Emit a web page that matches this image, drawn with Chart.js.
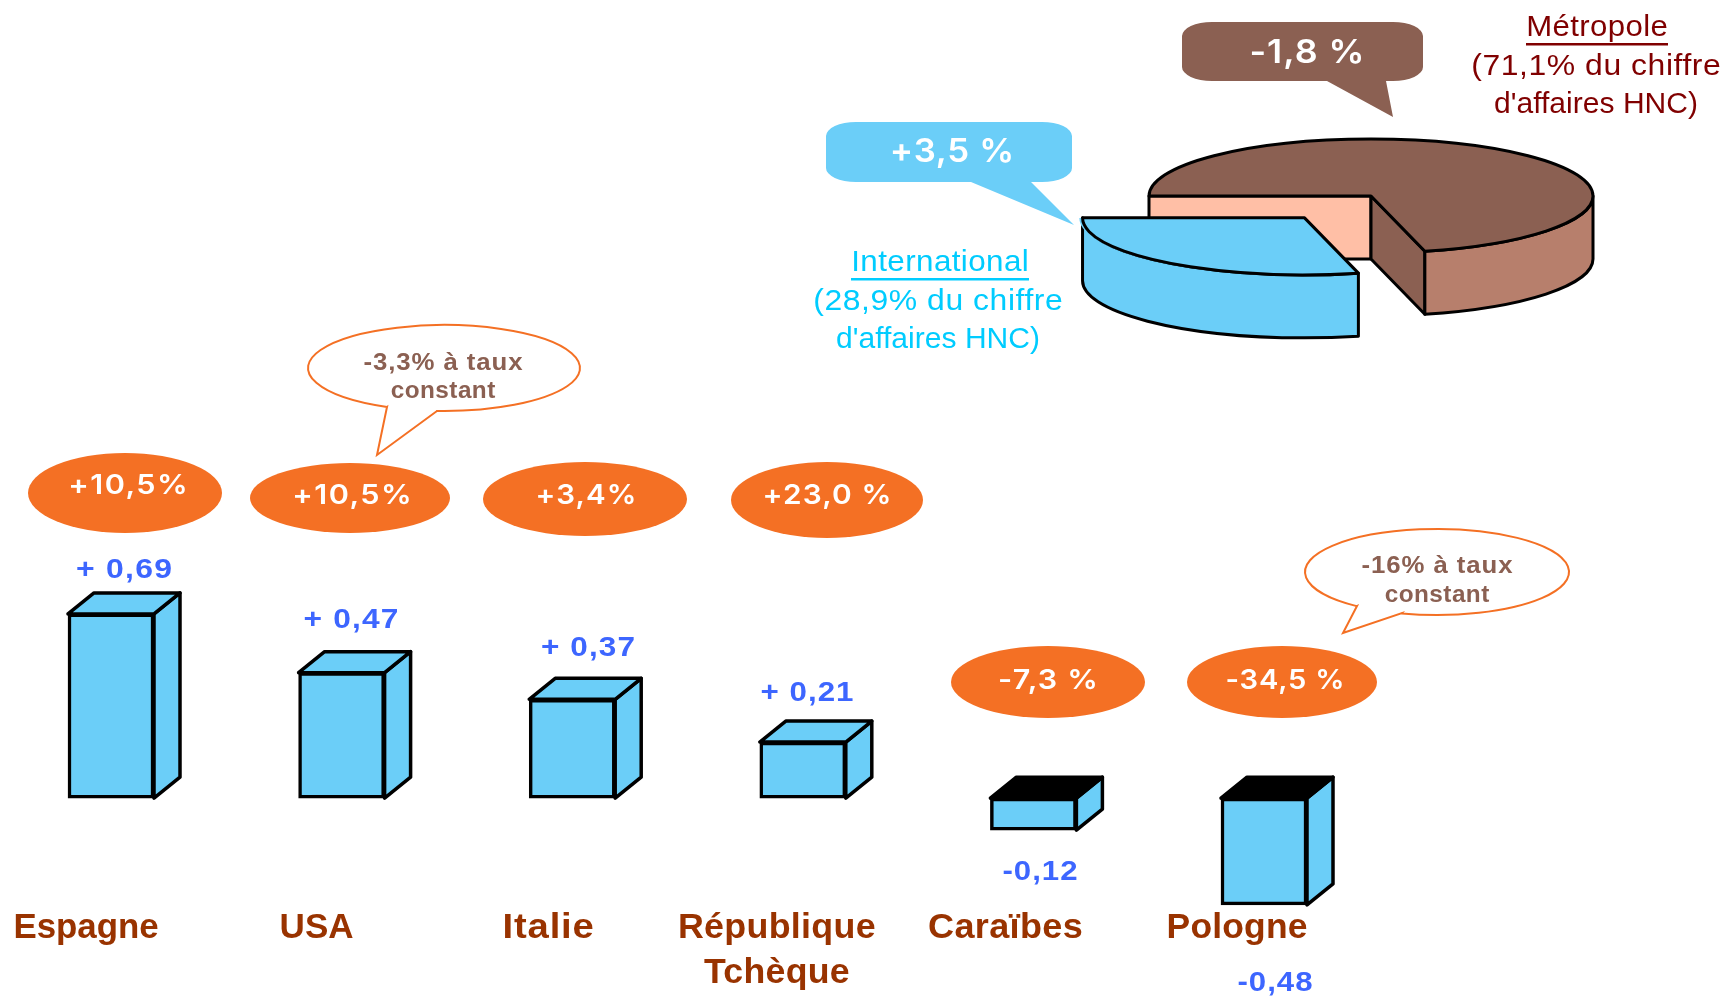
<!DOCTYPE html>
<html lang="fr">
<head>
<meta charset="utf-8">
<title>Chiffre d'affaires HNC</title>
<script src="https://cdn.jsdelivr.net/npm/chart.js@4"></script>
<style>
html,body{margin:0;padding:0;background:#fff;overflow:hidden}
#wrap{position:relative;width:1726px;height:996px;overflow:hidden}
#bars{position:absolute;left:0;top:0}
#pie{position:absolute;left:1018px;top:-200px}
</style>
</head>
<body>
<div id="wrap">
<canvas id="bars" width="1726" height="996"></canvas>
<canvas id="pie" width="706" height="792"></canvas>
</div>
<script>
// ---------- data ----------
const categories = ["Espagne", "USA", "Italie", ["République", "Tchèque"], "Caraïbes", "Pologne"];
// Bar heights as drawn, on the picture's own scale (the Pologne box is drawn shorter than its printed -0,48)
const barValues = [0.69, 0.47, 0.37, 0.21, -0.12, -0.40];
const valueLabels = ["+ 0,69", "+ 0,47", "+ 0,37", "+ 0,21", "-0,12", "-0,48"];
const growthLabels = ["+10,5%", "+10,5%", "+3,4%", "+23,0 %", "-7,3 %", "-34,5 %"];
const pieLabels = ["Métropole", "International"];
const pieValues = [71.1, 28.9];
const pieGrowth = ["-1,8 %", "+3,5 %"];
const pieNotes = [["(71,1% du chiffre", "d'affaires HNC)"], ["(28,9% du chiffre", "d'affaires HNC)"]];
const constantNotes = [["-3,3% à taux", "constant"], ["-16% à taux", "constant"]];

// ---------- layout & style ----------
const BLUE = "#6BCEF8", ORANGE = "#F47024", BROWN = "#8B6052", BROWN_SIDE = "#B77F6C", PINK = "#FFBFA6";
const VALUE_BLUE = "#3D66FF", CAT = "#993300", DARKRED = "#800000", CYAN = "#00CCFF";
const SANS = '"Liberation Sans"', WIDE = 'Inter';
const DEPTH_X = 26, DEPTH_Y = 21;
const catOffset = [-25, -25, -24, -26, -28, -27];
const catWidths = [[145],[74],[92],[198,146],[155],[141]];
const ellipses = [[125,493,97,40],[350,498,100,35],[585,499,102,37],[827,500,96,38],[1048,682,97,36],[1282,682,95,36]];
const growthPos = [[128,486],[352,496],[586,496],[827,496],[1048,681],[1285,681]];
const growthWidths = [121,121,102,130,101,120];
const valuePos = [[124,570],[351,620],[588,648],[807,693],[1040,872],[1275,983]];
const valueWidths = [97,96,95,94,76,76];

// width: the text is stretched and spaced out to that printed width
function txt(ctx, s, x, y, font, color, width, underline){
  ctx.save();
  ctx.font = font; ctx.fillStyle = color;
  ctx.textAlign = "center"; ctx.textBaseline = "middle";
  ctx.letterSpacing = "0px";
  const w0 = ctx.measureText(s).width;
  const stretch = width ? 1 + (width / w0 - 1) * 0.6 : 1;
  const sp = width ? (width / stretch - w0) / s.length : 0;
  ctx.letterSpacing = sp + "px";
  ctx.save();
  ctx.translate(x, y); ctx.scale(stretch, 1);
  ctx.fillText(s, sp/2, 0);
  ctx.restore();
  if (underline){
    const w = width || w0;
    ctx.fillRect(x - w/2, y + underline, w, 2.5);
  }
  ctx.restore();
}
function speech(ctx, x0, y0, x1, y1, tail, color){
  const rx = 30, ry = 14;
  ctx.beginPath();
  ctx.moveTo(x0+rx, y0);
  ctx.lineTo(x1-rx, y0);
  ctx.ellipse(x1-rx, y0+ry, rx, ry, 0, -Math.PI/2, 0);
  ctx.lineTo(x1, y1-ry);
  ctx.ellipse(x1-rx, y1-ry, rx, ry, 0, 0, Math.PI/2);
  ctx.lineTo(tail[3], y1);
  ctx.lineTo(tail[0], tail[1]);
  ctx.lineTo(tail[2], y1);
  ctx.lineTo(x0+rx, y1);
  ctx.ellipse(x0+rx, y1-ry, rx, ry, 0, Math.PI/2, Math.PI);
  ctx.lineTo(x0, y0+ry);
  ctx.ellipse(x0+rx, y0+ry, rx, ry, 0, Math.PI, Math.PI*1.5);
  ctx.closePath();
  ctx.fillStyle = color; ctx.fill();
}
function bubble(ctx, cx, cy, rx, ry, t){
  const a1 = Math.atan2((t[1]-cy)/ry, (t[0]-cx)/rx);
  const a2 = Math.atan2((t[5]-cy)/ry, (t[4]-cx)/rx);
  ctx.beginPath();
  ctx.ellipse(cx, cy, rx, ry, 0, a1, a2, false);
  ctx.lineTo(t[4], t[5]);
  ctx.lineTo(t[2], t[3]);
  ctx.lineTo(t[0], t[1]);
  ctx.closePath();
  ctx.fillStyle = "#fff"; ctx.fill();
  ctx.strokeStyle = ORANGE; ctx.lineWidth = 2; ctx.stroke();
}

const boxFaces = {
  id: "boxFaces",
  beforeDatasetsDraw(chart){
    const ctx = chart.ctx;
    ctx.save();
    ctx.lineWidth = 3.5; ctx.strokeStyle = "#000"; ctx.lineJoin = "round";
    chart.getDatasetMeta(0).data.forEach((b, i) => {
      const l = b.x - b.width/2, r = b.x + b.width/2;
      const top = Math.min(b.y, b.base), bot = Math.max(b.y, b.base);
      ctx.beginPath();
      ctx.moveTo(r, top); ctx.lineTo(r+DEPTH_X, top-DEPTH_Y); ctx.lineTo(r+DEPTH_X, bot-DEPTH_Y); ctx.lineTo(r, bot); ctx.closePath();
      ctx.fillStyle = BLUE; ctx.fill(); ctx.stroke();
      ctx.beginPath();
      ctx.moveTo(l, top); ctx.lineTo(l+DEPTH_X, top-DEPTH_Y); ctx.lineTo(r+DEPTH_X, top-DEPTH_Y); ctx.lineTo(r, top); ctx.closePath();
      ctx.fillStyle = barValues[i] < 0 ? "#000" : BLUE; ctx.fill(); ctx.stroke();
    });
    ctx.restore();
  },
  afterDraw(chart){
    const ctx = chart.ctx, xs = chart.scales.x;
    ellipses.forEach((e, i) => {
      ctx.beginPath(); ctx.ellipse(e[0], e[1], e[2], e[3], 0, 0, Math.PI*2);
      ctx.fillStyle = ORANGE; ctx.fill();
      txt(ctx, growthLabels[i], growthPos[i][0], growthPos[i][1], `600 27px ${WIDE}`, "#fff", growthWidths[i]);
    });
    valueLabels.forEach((s, i) => txt(ctx, s, valuePos[i][0], valuePos[i][1], `700 28px ${SANS}`, VALUE_BLUE, valueWidths[i]));
    categories.forEach((c, i) => {
      const x = xs.getPixelForValue(i) + catOffset[i];
      [].concat(c).forEach((line, k) => txt(ctx, line, x, 928 + k*45, `700 35px ${SANS}`, CAT, catWidths[i][k]));
    });
    bubble(ctx, 444, 368, 136, 43, [387,407, 377,455, 437,411]);
    constantNotes[0].forEach((s, k) => txt(ctx, s, 443, 364 + k*28, `700 23px ${SANS}`, BROWN, [160,105][k]));
    bubble(ctx, 1437, 572, 132, 43, [1357,606, 1343,633, 1402,613]);
    constantNotes[1].forEach((s, k) => txt(ctx, s, 1437, 567 + k*29, `700 23px ${SANS}`, BROWN, [152,105][k]));
    speech(ctx, 1182, 22, 1423, 81, [1393,117,1327,1386], BROWN);
    txt(ctx, pieGrowth[0], 1307, 53, `600 33px ${WIDE}`, "#fff", 116);
    speech(ctx, 826, 122, 1072, 182, [1074,225,971,1031], BLUE);
    txt(ctx, pieGrowth[1], 952, 152, `600 33px ${WIDE}`, "#fff", 125);
    txt(ctx, pieLabels[0], 1597, 28, `400 30px ${SANS}`, DARKRED, 142, 15);
    pieNotes[0].forEach((s, k) => txt(ctx, s, 1596, 67 + k*38, `400 30px ${SANS}`, DARKRED, [250,204][k]));
    txt(ctx, pieLabels[1], 940, 263, `400 30px ${SANS}`, CYAN, 178, 15);
    pieNotes[1].forEach((s, k) => txt(ctx, s, 938, 302 + k*38, `400 30px ${SANS}`, CYAN, [250,204][k]));
  }
};

new Chart(document.getElementById("bars"), {
  type: "bar",
  data: {
    labels: categories,
    datasets: [{
      data: barValues,
      backgroundColor: BLUE, borderColor: "#000", borderWidth: 3.5, borderSkipped: false,
      barThickness: 86, clip: false
    }]
  },
  options: {
    responsive: false, animation: false, devicePixelRatio: 1,
    layout: { padding: { left: 111, right: 462, top: 24, bottom: 11 } },
    scales: {
      x: { display: false, offset: false },
      y: { display: false, min: -0.7, max: 2.9 }
    },
    plugins: { legend: { display: false }, tooltip: { enabled: false } }
  },
  plugins: [boxFaces]
});

// ---------- squashed 3-D pie ----------
const SQUASH = 0.2568, THICK = 63;
// Chart.js's ArcElement translates by a quarter of its offset option
const shift = el => (el.options.offset || 0) / 4;
const pie3d = {
  id: "pie3d",
  beforeDatasetDraw(chart){
    const ctx = chart.ctx, arcs = chart.getDatasetMeta(0).data;
    const a = arcs[0], b = arcs[1], R = a.outerRadius, cx = a.x, cy = a.y;
    ctx.save();
    ctx.lineWidth = 3; ctx.strokeStyle = "#000"; ctx.lineJoin = "round";
    const poly = (pts, fill) => { ctx.beginPath(); pts.forEach((p,i)=> i?ctx.lineTo(p[0],p[1]):ctx.moveTo(p[0],p[1])); ctx.closePath(); ctx.fillStyle = fill; ctx.fill(); ctx.stroke(); };
    const sideArc = (x, y, s, e, fill) => {
      ctx.beginPath();
      ctx.ellipse(x, y, R, R*SQUASH, 0, s, e);
      ctx.lineTo(x + R*Math.cos(e), y + R*SQUASH*Math.sin(e) + THICK);
      ctx.ellipse(x, y + THICK, R, R*SQUASH, 0, e, s, true);
      ctx.closePath(); ctx.fillStyle = fill; ctx.fill(); ctx.stroke();
    };
    const endA = a.endAngle, px = cx + R*Math.cos(endA), py = cy + R*SQUASH*Math.sin(endA);
    poly([[cx-R,cy],[cx,cy],[cx,cy+THICK],[cx-R,cy+THICK]], PINK);
    poly([[cx,cy],[px,py],[px,py+THICK],[cx,cy+THICK]], BROWN);
    sideArc(cx, cy, 0, endA, BROWN_SIDE);
    const mid = (b.startAngle + b.endAngle)/2, off = shift(b);
    sideArc(cx + Math.cos(mid)*off, cy + Math.sin(mid)*off*SQUASH, b.startAngle, b.endAngle, BLUE);
    ctx.restore();
    // top faces are drawn by the library inside a squashed context
    ctx.save();
    ctx.translate(cx, cy); ctx.scale(1, SQUASH); ctx.translate(-cx, -cy);
  },
  afterDatasetDraw(chart){
    const ctx = chart.ctx;
    ctx.restore();
    chart.getDatasetMeta(0).data.forEach(el => {
      const off = shift(el), mid = (el.startAngle + el.endAngle)/2;
      const x = el.x + Math.cos(mid)*off, y = el.y + Math.sin(mid)*off*SQUASH, R = el.outerRadius;
      ctx.save();
      ctx.lineWidth = 3; ctx.strokeStyle = "#000"; ctx.lineJoin = "round";
      ctx.beginPath();
      ctx.moveTo(x, y);
      ctx.ellipse(x, y, R, R*SQUASH, 0, el.startAngle, el.endAngle);
      ctx.closePath(); ctx.stroke();
      ctx.restore();
    });
  }
};

new Chart(document.getElementById("pie"), {
  type: "pie",
  data: {
    labels: pieLabels,
    datasets: [{
      data: pieValues,
      backgroundColor: [BROWN, BLUE], borderWidth: 0,
      offset: [0, 432], radius: 222, clip: false
    }]
  },
  options: {
    responsive: false, animation: false, devicePixelRatio: 1,
    rotation: -90,
    layout: { padding: 0 },
    plugins: { legend: { display: false }, tooltip: { enabled: false } }
  },
  plugins: [pie3d]
});
</script>
</body>
</html>
